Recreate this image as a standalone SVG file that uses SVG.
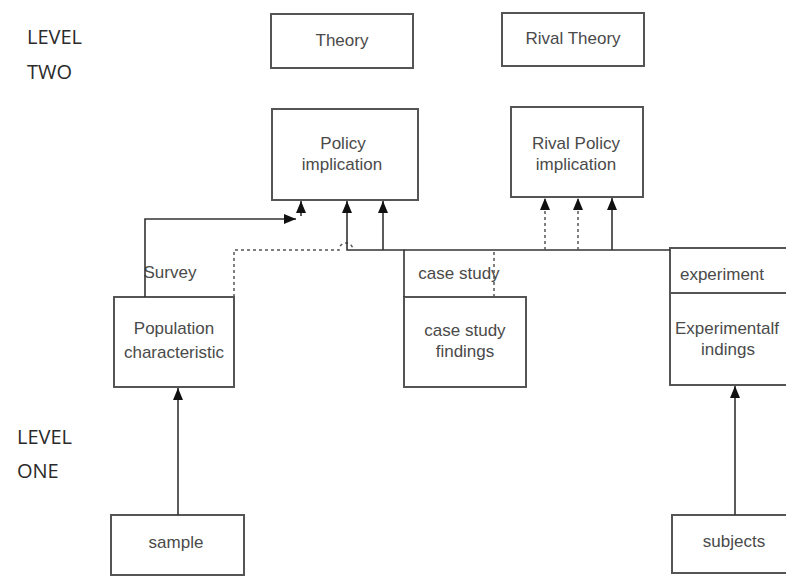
<svg xmlns="http://www.w3.org/2000/svg" width="786" height="577" viewBox="0 0 786 577">
<defs>
<marker id="arr" viewBox="0 0 12 10" markerWidth="12" markerHeight="10" refX="12" refY="5" orient="auto" markerUnits="userSpaceOnUse">
<path d="M0,0 L12,5 L0,10 z" fill="#111"/>
</marker>
<style>
.box{fill:#fff;stroke:#555;stroke-width:2}
.t{font-family:"Liberation Sans",Arial,sans-serif;font-size:17px;fill:#4a4a4a;text-anchor:middle}
.lvl{font-family:"Open Sans","Liberation Sans",sans-serif;font-size:20px;fill:#2a2a2a}
.c{fill:none;stroke:#333;stroke-width:1.6}
.d{fill:none;stroke:#555;stroke-width:1.5;stroke-dasharray:3,3}
</style>
</defs>
<rect width="786" height="577" fill="#fff"/>
<g id="level-two">
<text class="lvl" x="27" y="44">LEVEL</text>
<text class="lvl" x="27" y="79">TWO</text>
</g>
<g id="level-one">
<text class="lvl" x="17" y="444">LEVEL</text>
<text class="lvl" x="17" y="478">ONE</text>
</g>
<g id="theory">
<rect class="box" x="271" y="14" width="142" height="54"/>
<text class="t" x="342" y="46">Theory</text>
</g>
<g id="rival-theory">
<rect class="box" x="502" y="13" width="142" height="53"/>
<text class="t" x="573" y="44">Rival Theory</text>
</g>
<g id="policy">
<rect class="box" x="272" y="109" width="146" height="91"/>
<text class="t" x="343" y="149">Policy</text>
<text class="t" x="342" y="170">implication</text>
</g>
<g id="rival-policy">
<rect class="box" x="511" y="107" width="132" height="90"/>
<text class="t" x="576" y="149">Rival Policy</text>
<text class="t" x="576" y="170">implication</text>
</g>
<g id="population">
<rect class="box" x="114" y="297" width="120" height="90"/>
<text class="t" x="174" y="334">Population</text>
<text class="t" x="174" y="358">characteristic</text>
</g>
<g id="case-study">
<text class="t" x="459" y="279">case study</text>
<rect class="box" x="404" y="297" width="122" height="90"/>
<text class="t" x="465" y="336">case study</text>
<text class="t" x="465" y="357">findings</text>
</g>
<g id="experiment">
<rect class="box" x="670" y="248" width="130" height="137"/>
<line x1="670" y1="293" x2="786" y2="293" stroke="#555" stroke-width="2"/>
<text class="t" x="722" y="280">experiment</text>
<text class="t" x="727" y="334">Experimentalf</text>
<text class="t" x="728" y="355">indings</text>
</g>
<g id="sample">
<rect class="box" x="111" y="515" width="133" height="60"/>
<text class="t" x="176" y="548">sample</text>
</g>
<g id="subjects">
<rect class="box" x="672" y="515" width="130" height="58"/>
<text class="t" x="734" y="547">subjects</text>
</g>
<g id="connectors">
<text class="t" x="170" y="278">Survey</text>
<path class="c" d="M145,297 V219 H296" marker-end="url(#arr)"/>
<path class="c" d="M301,216 V201" marker-end="url(#arr)"/>
<path class="d" d="M234,297 V250 H339 A7,7 0 0 1 353,250"/>
<path class="c" d="M404,297 V250 H347 V201" marker-end="url(#arr)"/>
<path class="c" d="M383,250 V201" marker-end="url(#arr)"/>
<path class="c" d="M404,250 H670"/>
<path class="c" d="M612,250 V198" marker-end="url(#arr)"/>
<path class="d" d="M494,297 V250"/>
<path class="d" d="M545,250 V198" marker-end="url(#arr)"/>
<path class="d" d="M578,250 V198" marker-end="url(#arr)"/>
<path class="c" d="M178,515 V388" marker-end="url(#arr)"/>
<path class="c" d="M735,515 V386" marker-end="url(#arr)"/>
</g>
</svg>
